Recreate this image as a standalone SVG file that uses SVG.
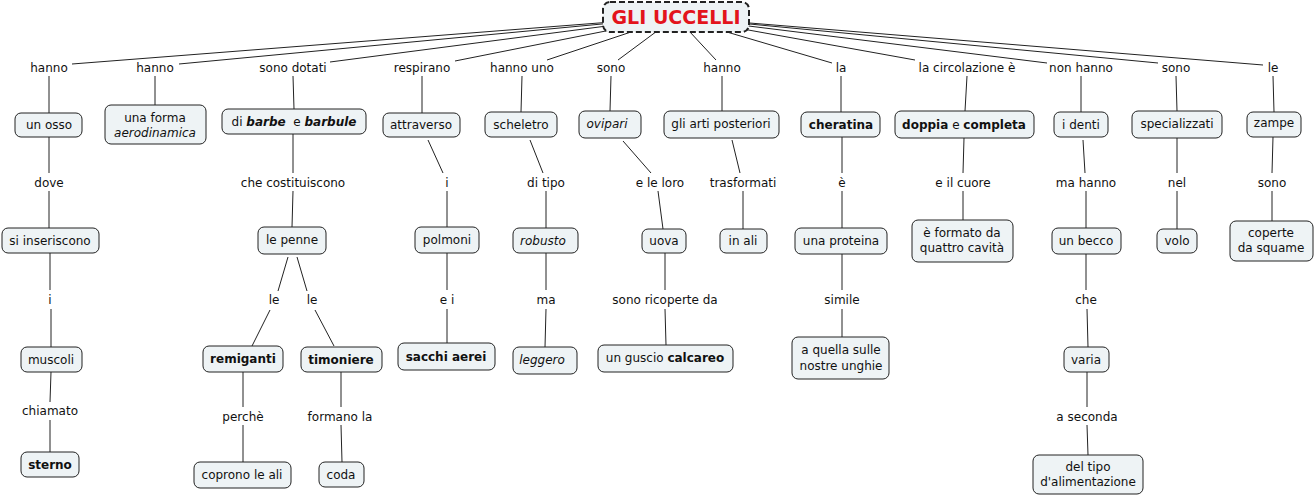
<svg xmlns="http://www.w3.org/2000/svg" width="1315" height="497" viewBox="0 0 1315 497">
<style>
  .bg { fill: #ffffff; }
  .c line { stroke: #222; stroke-width: 1; }
  .n rect { fill: #eef3f5; stroke: #222; stroke-width: 1; }
  text { font-family: "DejaVu Sans", Verdana, sans-serif; font-size: 12px; fill: #111; text-anchor: middle; }
  .b { font-weight: bold; }
  .i { font-style: italic; }
  .root rect { fill: #eef3f5; stroke: #222; stroke-width: 2; stroke-dasharray: 6 3; }
  .root text { font-size: 19px; font-weight: bold; fill: #e3141c; }
</style>
<rect class="bg" x="0" y="0" width="1315" height="497"/>
<g id="connectors" class="c">
  <line x1="676" y1="17" x2="72" y2="64"/>
  <line x1="676" y1="17" x2="179" y2="64"/>
  <line x1="676" y1="17" x2="330" y2="62"/>
  <line x1="676" y1="17" x2="455" y2="61"/>
  <line x1="676" y1="17" x2="547" y2="60"/>
  <line x1="676" y1="17" x2="618" y2="60"/>
  <line x1="676" y1="17" x2="716" y2="60"/>
  <line x1="676" y1="17" x2="832" y2="63"/>
  <line x1="676" y1="17" x2="915" y2="60"/>
  <line x1="676" y1="17" x2="1047" y2="63"/>
  <line x1="676" y1="17" x2="1158" y2="63"/>
  <line x1="676" y1="17" x2="1263" y2="65"/>
  <line x1="49" y1="76" x2="49" y2="113"/>
  <line x1="155" y1="76" x2="155" y2="105"/>
  <line x1="293" y1="76" x2="294" y2="109"/>
  <line x1="422" y1="76" x2="422" y2="113"/>
  <line x1="522" y1="76" x2="521" y2="112"/>
  <line x1="611" y1="76" x2="610" y2="111"/>
  <line x1="722" y1="76" x2="722" y2="111"/>
  <line x1="841" y1="76" x2="841" y2="112"/>
  <line x1="967" y1="76" x2="965" y2="111"/>
  <line x1="1081" y1="76" x2="1081" y2="112"/>
  <line x1="1176" y1="76" x2="1177" y2="111"/>
  <line x1="1273" y1="76" x2="1274" y2="112"/>
  <line x1="49" y1="137" x2="49" y2="173"/>
  <line x1="49" y1="191" x2="49" y2="228"/>
  <line x1="293" y1="134" x2="293" y2="173"/>
  <line x1="293" y1="191" x2="292" y2="227"/>
  <line x1="428" y1="140" x2="443" y2="173"/>
  <line x1="447" y1="191" x2="447" y2="227"/>
  <line x1="530" y1="140" x2="543" y2="173"/>
  <line x1="546" y1="191" x2="546" y2="228"/>
  <line x1="623" y1="141" x2="651" y2="173"/>
  <line x1="658" y1="191" x2="663" y2="229"/>
  <line x1="732" y1="140" x2="740" y2="173"/>
  <line x1="743" y1="191" x2="743" y2="229"/>
  <line x1="842" y1="137" x2="842" y2="173"/>
  <line x1="842" y1="191" x2="842" y2="228"/>
  <line x1="964" y1="138" x2="963" y2="173"/>
  <line x1="963" y1="191" x2="963" y2="220"/>
  <line x1="1083" y1="140" x2="1085" y2="173"/>
  <line x1="1086" y1="191" x2="1086" y2="228"/>
  <line x1="1177" y1="138" x2="1177" y2="173"/>
  <line x1="1177" y1="191" x2="1177" y2="229"/>
  <line x1="1273" y1="137" x2="1272" y2="173"/>
  <line x1="1272" y1="191" x2="1272" y2="221"/>
  <line x1="50" y1="253" x2="50" y2="290"/>
  <line x1="51" y1="309" x2="51" y2="347"/>
  <line x1="288" y1="257" x2="278" y2="291"/>
  <line x1="270" y1="310" x2="252" y2="346"/>
  <line x1="297" y1="257" x2="307" y2="291"/>
  <line x1="315" y1="310" x2="334" y2="346"/>
  <line x1="447" y1="253" x2="447" y2="290"/>
  <line x1="447" y1="309" x2="447" y2="343"/>
  <line x1="546" y1="253" x2="546" y2="290"/>
  <line x1="546" y1="309" x2="545" y2="347"/>
  <line x1="665" y1="253" x2="665" y2="290"/>
  <line x1="665" y1="309" x2="666" y2="345"/>
  <line x1="842" y1="254" x2="842" y2="290"/>
  <line x1="842" y1="309" x2="842" y2="337"/>
  <line x1="1086" y1="254" x2="1086" y2="290"/>
  <line x1="1087" y1="309" x2="1088" y2="347"/>
  <line x1="51" y1="372" x2="50" y2="402"/>
  <line x1="50" y1="420" x2="50" y2="452"/>
  <line x1="243" y1="372" x2="243" y2="407"/>
  <line x1="243" y1="425" x2="243" y2="462"/>
  <line x1="341" y1="372" x2="341" y2="407"/>
  <line x1="341" y1="425" x2="342" y2="462"/>
  <line x1="1087" y1="372" x2="1087" y2="407"/>
  <line x1="1087" y1="425" x2="1088" y2="455"/>
</g>
<g id="labels">
  <g id="l-hanno1"><text x="49" y="72">hanno</text></g>
  <g id="l-hanno2"><text x="155" y="72">hanno</text></g>
  <g id="l-sonodotati"><text x="293" y="72">sono dotati</text></g>
  <g id="l-respirano"><text x="422" y="72">respirano</text></g>
  <g id="l-hannouno"><text x="522" y="72">hanno uno</text></g>
  <g id="l-sono1"><text x="611" y="72">sono</text></g>
  <g id="l-hanno3"><text x="722" y="72">hanno</text></g>
  <g id="l-la"><text x="841" y="72">la</text></g>
  <g id="l-circolazione"><text x="967" y="72">la circolazione è</text></g>
  <g id="l-nonhanno"><text x="1081" y="72">non hanno</text></g>
  <g id="l-sono2"><text x="1176" y="72">sono</text></g>
  <g id="l-le"><text x="1273" y="72">le</text></g>
  <g id="l-dove"><text x="49" y="187">dove</text></g>
  <g id="l-checostituiscono"><text x="293" y="187">che costituiscono</text></g>
  <g id="l-i1"><text x="447" y="187">i</text></g>
  <g id="l-ditipo"><text x="546" y="187">di tipo</text></g>
  <g id="l-eleloro"><text x="660" y="187">e le loro</text></g>
  <g id="l-trasformati"><text x="743" y="187">trasformati</text></g>
  <g id="l-e"><text x="842" y="187">è</text></g>
  <g id="l-eilcuore"><text x="963" y="187">e il cuore</text></g>
  <g id="l-mahanno"><text x="1086" y="187">ma hanno</text></g>
  <g id="l-nel"><text x="1177" y="187">nel</text></g>
  <g id="l-sono3"><text x="1272" y="187">sono</text></g>
  <g id="l-i2"><text x="50" y="304">i</text></g>
  <g id="l-le1"><text x="274" y="304">le</text></g>
  <g id="l-le2"><text x="312" y="304">le</text></g>
  <g id="l-ei"><text x="447" y="304">e i</text></g>
  <g id="l-ma"><text x="546" y="304">ma</text></g>
  <g id="l-ricoperte"><text x="665" y="304">sono ricoperte da</text></g>
  <g id="l-simile"><text x="842" y="304">simile</text></g>
  <g id="l-che"><text x="1086" y="304">che</text></g>
  <g id="l-chiamato"><text x="50" y="415">chiamato</text></g>
  <g id="l-perche"><text x="243" y="421">perchè</text></g>
  <g id="l-formano"><text x="340" y="421">formano la</text></g>
  <g id="l-aseconda"><text x="1087" y="421">a seconda</text></g>
</g>
<g id="root" class="root">
  <rect x="603" y="2" width="146" height="30" rx="7"/>
  <text x="676" y="24">GLI UCCELLI</text>
</g>
<g id="n-unosso" class="n"><rect x="15" y="113" width="67" height="24" rx="6"/><text x="49" y="129">un osso</text></g>
<g id="n-forma" class="n"><rect x="105" y="105" width="101" height="39" rx="6"/><text x="155" y="122">una forma</text><text x="155" y="137" class="i">aerodinamica</text></g>
<g id="n-barbe" class="n"><rect x="222" y="109" width="144" height="25" rx="6"/><text x="294" y="126" xml:space="preserve">di <tspan class="b i">barbe</tspan>  e <tspan class="b i">barbule</tspan></text></g>
<g id="n-attraverso" class="n"><rect x="383" y="113" width="77" height="24" rx="6"/><text x="421" y="129">attraverso</text></g>
<g id="n-scheletro" class="n"><rect x="485" y="112" width="72" height="25" rx="6"/><text x="521" y="129">scheletro</text></g>
<g id="n-ovipari" class="n"><rect x="579" y="111" width="62" height="27" rx="6"/><text x="607" y="128" class="i">ovipari</text></g>
<g id="n-arti" class="n"><rect x="664" y="111" width="115" height="27" rx="6"/><text x="721" y="128">gli arti posteriori</text></g>
<g id="n-cheratina" class="n"><rect x="801" y="112" width="79" height="25" rx="6"/><text x="841" y="129" class="b">cheratina</text></g>
<g id="n-doppia" class="n"><rect x="895" y="111" width="139" height="27" rx="6"/><text x="964" y="129"><tspan class="b">doppia</tspan> e <tspan class="b">completa</tspan></text></g>
<g id="n-denti" class="n"><rect x="1054" y="112" width="54" height="25" rx="6"/><text x="1081" y="129">i denti</text></g>
<g id="n-specializzati" class="n"><rect x="1132" y="111" width="90" height="27" rx="6"/><text x="1177" y="128">specializzati</text></g>
<g id="n-zampe" class="n"><rect x="1247" y="112" width="54" height="25" rx="6"/><text x="1274" y="127">zampe</text></g>
<g id="n-inseriscono" class="n"><rect x="2" y="228" width="97" height="25" rx="6"/><text x="50" y="245">si inseriscono</text></g>
<g id="n-penne" class="n"><rect x="258" y="227" width="68" height="27" rx="6"/><text x="292" y="244">le penne</text></g>
<g id="n-polmoni" class="n"><rect x="415" y="227" width="64" height="26" rx="6"/><text x="447" y="244">polmoni</text></g>
<g id="n-robusto" class="n"><rect x="513" y="228" width="65" height="25" rx="6"/><text x="543" y="245" class="i">robusto</text></g>
<g id="n-uova" class="n"><rect x="642" y="229" width="44" height="24" rx="6"/><text x="664" y="245">uova</text></g>
<g id="n-inali" class="n"><rect x="720" y="229" width="47" height="24" rx="6"/><text x="743" y="245">in ali</text></g>
<g id="n-proteina" class="n"><rect x="795" y="228" width="92" height="26" rx="6"/><text x="841" y="245">una proteina</text></g>
<g id="n-formato" class="n"><rect x="912" y="220" width="101" height="42" rx="6"/><text x="962" y="237">è formato da</text><text x="962" y="252">quattro cavità</text></g>
<g id="n-becco" class="n"><rect x="1052" y="228" width="69" height="26" rx="6"/><text x="1086" y="245">un becco</text></g>
<g id="n-volo" class="n"><rect x="1157" y="229" width="40" height="24" rx="6"/><text x="1177" y="245">volo</text></g>
<g id="n-coperte" class="n"><rect x="1230" y="221" width="83" height="40" rx="6"/><text x="1271" y="237">coperte</text><text x="1271" y="252">da squame</text></g>
<g id="n-muscoli" class="n"><rect x="21" y="347" width="61" height="25" rx="6"/><text x="51" y="364">muscoli</text></g>
<g id="n-remiganti" class="n"><rect x="203" y="346" width="80" height="26" rx="6"/><text x="243" y="363" class="b">remiganti</text></g>
<g id="n-timoniere" class="n"><rect x="301" y="347" width="81" height="25" rx="6"/><text x="341" y="364" class="b">timoniere</text></g>
<g id="n-sacchi" class="n"><rect x="398" y="343" width="97" height="27" rx="6"/><text x="446" y="361" class="b">sacchi aerei</text></g>
<g id="n-leggero" class="n"><rect x="513" y="347" width="64" height="27" rx="6"/><text x="542" y="364" class="i">leggero</text></g>
<g id="n-guscio" class="n"><rect x="598" y="345" width="135" height="27" rx="6"/><text x="665" y="362">un guscio <tspan class="b">calcareo</tspan></text></g>
<g id="n-quella" class="n"><rect x="792" y="337" width="97" height="42" rx="6"/><text x="841" y="354">a quella sulle</text><text x="841" y="370">nostre unghie</text></g>
<g id="n-varia" class="n"><rect x="1064" y="347" width="45" height="25" rx="6"/><text x="1086" y="364">varia</text></g>
<g id="n-sterno" class="n"><rect x="21" y="452" width="58" height="25" rx="6"/><text x="50" y="469" class="b">sterno</text></g>
<g id="n-coprono" class="n"><rect x="194" y="462" width="97" height="26" rx="6"/><text x="242" y="479">coprono le ali</text></g>
<g id="n-coda" class="n"><rect x="319" y="462" width="45" height="25" rx="6"/><text x="341" y="479">coda</text></g>
<g id="n-tipo" class="n"><rect x="1033" y="455" width="110" height="39" rx="6"/><text x="1088" y="471">del tipo</text><text x="1088" y="486">d'alimentazione</text></g>
</svg>
